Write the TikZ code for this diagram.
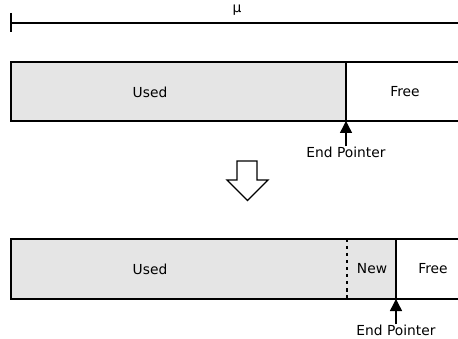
\documentclass[tikz,border=0pt]{standalone}
\usepackage{fontspec}
\setmainfont{DejaVu Sans}
\usetikzlibrary{arrows.meta}

\definecolor{usedgray}{HTML}{E5E5E5}

\tikzset{
  block/.style={draw, line width=2pt, fill=usedgray, inner sep=0pt, outer sep=0pt, anchor=north west},
  label/.style={inner sep=0pt, font=\fontsize{13.8}{16}\selectfont},
  pointer/.style={line width=1.4pt, -{Triangle[width=12pt, length=12pt]}}
}

\begin{document}
\begin{tikzpicture}[x=1pt, y=-1pt]
                    \useasboundingbox (0,0) rectangle (458,339);
                    % scale
                    \coordinate (s0) at (11,23);
                    \coordinate (s1) at (470,23);
                    \draw[line width=1.4pt] (11,13) -- (11,32);
                    \draw[line width=1.4pt] (s0) -- (s1);
                    \node[label] (mu) at (237,10) {μ};
                    % before
                    \node[block, minimum width=335pt, minimum height=59pt] (used1) at (11,62) {};
                    \node[label] at (150,92) {Used};
                    \draw[line width=2pt] (used1.north east) -- ++(130,0);
                    \draw[line width=2pt] (used1.south east) -- ++(130,0);
                    \node[label] (free1) at (405,92) {Free};
                    \node[label] (end1) at (346,152) {End Pointer};
                    \draw[pointer] (end1.north) -- (used1.south east);
                    % step
                    \draw[line width=1.4pt, fill=white] (237,161) -- (257,161) -- (257,180) -- (268,180)
                      -- (247.5,200.5) -- (227,180) -- (237,180) -- cycle;
                    % after
                    \node[block, minimum width=385pt, minimum height=60pt] (used2) at (11,239) {};
                    \node[label] at (150,269) {Used};
                    \draw[line width=1.6pt, dash pattern=on 3.5pt off 3.5pt] (347,239) -- (347,299);
                    \node[label] (new2) at (372,269) {New};
                    \draw[line width=2pt] (used2.north east) -- ++(80,0);
                    \draw[line width=2pt] (used2.south east) -- ++(80,0);
                    \node[label] (free2) at (433,269) {Free};
                    \node[label] (end2) at (396,330) {End Pointer};
                    \draw[pointer] (end2.north) -- (used2.south east);
                \end{tikzpicture}
\end{document}
